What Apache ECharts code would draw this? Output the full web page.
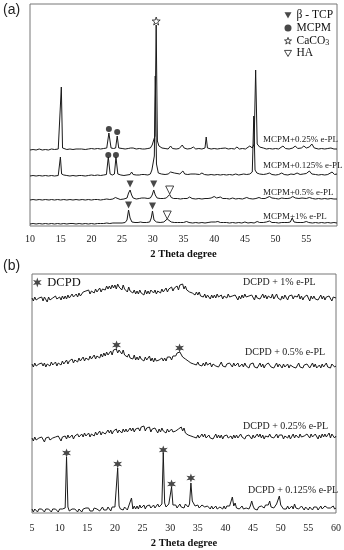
<!DOCTYPE html>
<html><head><meta charset="utf-8">
<script src="https://cdn.jsdelivr.net/npm/echarts/dist/echarts.min.js"></script>
<style>html,body{margin:0;padding:0;background:#fff}#c{width:344px;height:550px}</style>
</head><body><div id="c"></div>
<script>
// ---------- Panel (a): MCPM samples, [2θ, intensity(offset)] ----------
const mcpm025 = [[10,76],[10.5,76.5],[11,76],[11.5,77],[12,76],[12.5,76.5],[13,76],[13.5,77],[14,76.5],[14.6,77],[14.9,78],[15.1,139],[15.3,78],[15.6,77],[16,76.5],[16.5,77],[17,76.5],[17.5,77],[18.0,77],[18.2,79],[18.4,77],[19,76.5],[19.5,77],[20,77.5],[20.5,77],[21,77.5],[21.5,77],[22,77.5],[22.5,78],[22.85,93],[23.2,78],[23.6,77.5],[23.95,78],[24.2,90],[24.45,78],[25,77.5],[25.5,77],[26,77.5],[26.4,78],[26.6,80],[26.8,78],[27.3,77],[27.8,77.5],[28.3,77],[28.5,79],[28.7,77],[29.2,77.5],[29.6,78],[29.9,81],[30.1,80],[30.35,90],[30.55,201],[30.75,85],[31,80],[31.5,78],[32,77.5],[32.5,77],[32.9,80],[33.2,77.5],[33.8,77],[34.3,77.5],[34.8,81],[35.1,78],[35.6,77],[36.2,77.5],[36.6,79],[37,77],[37.5,77.5],[38,77],[38.5,78],[38.7,89],[38.9,78],[39.5,77],[40,77.5],[40.5,77],[41,77.5],[41.8,78],[42.3,77],[42.8,77.5],[43.3,77],[43.7,79],[44.1,77],[44.6,77.5],[45.1,77],[45.8,80],[46.2,78],[46.5,82],[46.75,156],[47,82],[47.4,79],[48,78],[48.5,77],[49,77.5],[49.5,77],[50,77.5],[50.5,77],[51.2,80],[51.6,77.5],[52.2,77],[52.8,78],[53.2,80],[53.6,77.5],[54.2,78],[54.6,80],[55,78],[55.5,79],[55.9,82],[56.3,78],[57,77],[57.5,77.5],[58,77],[58.5,77.5],[59,78],[59.5,77],[60,77]];
const mcpm0125 = [[10,50],[10.5,50.5],[11,50],[11.5,50.5],[12,50],[12.5,50.5],[13,50],[13.5,50.5],[14,50],[14.6,50.5],[14.8,51],[14.95,69],[15.15,52],[15.5,51],[16,50.5],[16.5,50],[17,50.5],[17.5,50],[18,50.5],[18.15,52],[18.4,50.5],[19,50],[19.5,50.5],[20,51],[20.5,50.5],[21,51],[21.5,50.5],[22,51],[22.45,51.5],[22.75,69],[23.05,52],[23.4,51],[23.75,52],[24.0,69],[24.3,52],[24.8,51],[25.3,50.5],[25.8,51],[26.3,51.5],[26.55,54],[26.8,51.5],[27.3,51],[27.8,51],[28.2,51.5],[28.4,53],[28.6,51.5],[29.2,51],[29.6,52],[29.85,56],[30.05,54],[30.25,70],[30.4,150],[30.6,62],[30.9,53],[31.4,52],[32,51.5],[32.5,52],[32.9,54],[33.2,52],[33.5,53],[33.8,51.5],[34.4,52],[34.9,55],[35.2,52],[35.7,51.5],[36.2,52],[36.5,53.5],[36.9,52],[37.2,52.5],[37.6,51.5],[38,53],[38.4,51.5],[39,51],[39.5,51.5],[40,51],[40.5,51.5],[41,51],[41.5,51.5],[42,51],[42.5,51.5],[43,51],[43.5,52],[44,51],[44.8,52],[45.3,51.5],[45.8,52],[46.2,54],[46.45,110],[46.65,56],[46.95,53],[47.4,52],[48,51.5],[48.5,52],[49,53],[49.4,51.5],[50,51],[50.5,51.5],[51,53],[51.4,51.5],[52,51],[52.5,52],[53,51.5],[53.5,53],[54,51.5],[54.5,52],[55,52.5],[55.5,55],[55.9,52],[56.5,51.5],[57,51],[57.5,51.5],[58,51],[58.5,51.5],[59.2,54],[59.6,51.5],[60,52]];
const mcpm05 = [[10,26],[10.5,26.5],[11,26],[11.5,26.5],[12,26],[12.5,26.5],[12.8,27.5],[13.1,26],[13.5,26.5],[14,26],[14.5,26.5],[15,26],[15.5,26.5],[16,26],[16.5,26.5],[17,26],[17.5,26.5],[18,26],[18.5,26.5],[19,26],[19.5,26.5],[20,26],[20.5,26.5],[21,26.5],[21.5,26],[22,26.5],[22.5,27],[23,26.5],[23.5,27],[23.9,28.5],[24.2,27],[24.7,26.5],[25.3,27],[25.8,28],[26.05,33],[26.3,36],[26.55,31],[26.8,28],[27.3,27],[27.8,27.5],[28.2,28],[28.45,30],[28.7,28],[29.2,27.5],[29.6,28],[29.9,31],[30.15,36],[30.4,31],[30.7,28],[31.2,27.5],[31.7,27.5],[32.2,28],[32.5,29],[32.75,31.5],[33.0,28.5],[33.4,27.5],[34,27.5],[34.5,27],[35,27.5],[35.6,27.5],[36,29],[36.4,27.5],[37,27],[37.5,27.5],[38,27],[38.5,27.5],[39,27.5],[39.5,28],[40,29.5],[40.4,28],[41,29],[41.4,27.5],[42,27.5],[42.5,27],[43,28],[43.5,27],[44,27.5],[44.6,27],[45.3,28.5],[45.7,27.5],[46.3,27],[46.8,27.5],[47.3,28.5],[47.7,27.5],[48.3,27.5],[49,29.5],[49.4,28],[50,27.5],[50.5,27],[51,28],[51.5,27.5],[52,27.5],[52.4,28],[52.8,29.5],[53.2,28],[53.8,27.5],[54.3,28],[55,27.5],[55.5,28.5],[56,27.5],[56.5,27],[57,27.5],[57.5,27],[58,27.5],[58.5,27],[59,27.5],[59.5,27],[60,27]];
const mcpm1 = [[10,2],[10.5,2.5],[11,2],[11.5,2.5],[12,2],[12.5,2.5],[13,2],[13.5,2.5],[14,2],[14.5,2.5],[15,2],[15.5,2.5],[16,2],[16.5,2.5],[17,2.5],[17.5,2],[18,2.5],[18.5,2],[19,2.5],[19.5,2],[20,2.5],[20.5,2],[21,2.5],[21.5,2.5],[22,2.5],[22.5,3],[23,2.5],[23.5,3],[24,3],[24.5,3],[25,3],[25.5,3.5],[25.8,6],[26.05,16],[26.3,8],[26.6,4],[27.1,3.5],[27.6,3.5],[28,4],[28.2,5],[28.4,3.5],[29,3.5],[29.5,4],[29.75,8],[29.95,15],[30.2,6],[30.6,4],[31.2,3.5],[31.8,4],[32.1,5],[32.35,7],[32.6,5],[33,4],[33.5,3.5],[34,3.5],[34.5,3.5],[35,3.5],[35.5,4.5],[35.9,3.5],[36.5,3],[37,3.5],[37.5,3],[38,3.5],[38.5,3],[39,3.5],[39.5,4],[39.8,5.5],[40.2,4],[40.6,4.5],[41,3.5],[41.5,3.5],[42,3.5],[42.5,3],[43,3.5],[43.5,3],[44,3.5],[44.5,3],[45,4],[45.5,3],[46,3.5],[46.5,3],[47,4.5],[47.4,3.5],[48,3.5],[48.5,4],[49,5],[49.4,3.5],[50,3.5],[50.5,3],[51,3.5],[51.5,3.5],[52,3.5],[52.4,4],[52.7,8],[53,4],[53.5,3.5],[54,3.5],[54.5,3.5],[55,4.5],[55.4,3.5],[56,3],[56.5,3.5],[57,3],[57.5,3.5],[58,3],[58.5,3.5],[59,3],[59.5,3.5],[60,3]];
// phase markers (a)
const tcpMarks = [[26.3,42],[30.15,42],[26.05,21],[29.95,20]];
const mcpmMarks = [[22.85,97],[24.2,94],[22.75,71],[24.0,71]];
const caco3Marks = [[30.55,205]];
const haMarks = [[32.75,36],[32.35,11]];
const ticksA = {min:10, max:60, step:5};

// ---------- Panel (b): DCPD samples, 2θ from 5 to 60, step 0.25 ----------
const thetaB = {start:5, step:0.25};
const dcpd1 = [215,212,216,213, 211,215,213,216, 212,216,214,211, 216,213,211,215, 213,217,214,212, 216,213,217,214, 217,214,218,215, 215,219,216,218, 219,216,220,217, 218,221,219,222, 220,223,219,222, 223,220,224,221, 222,225,221,224, 226,223,227,224, 227,224,228,225, 228,224,229,226, 227,223,228,224, 225,221,226,222, 224,220,223,219, 222,219,223,220, 221,218,223,219, 222,219,223,221, 220,223,219,222, 223,220,224,221, 222,225,221,224, 223,226,222,225, 224,227,223,228, 226,229,224,227, 223,225,221,222, 220,222,218,221, 218,221,217,219, 216,219,215,218, 217,214,218,215, 218,215,219,216, 215,218,214,217, 218,215,219,216, 214,217,215,218, 216,213,217,214, 218,215,219,216, 214,217,215,218, 216,213,218,215, 217,214,216,219, 215,218,214,217, 218,215,219,214, 216,219,215,217, 213,217,214,218, 216,213,217,215, 218,214,217,215, 216,219,214,217, 213,216,214,218, 215,212,217,214, 217,214,216,213, 215,218,214,217, 213,216,214,217, 215,212,216,214, 215];
const dcpd05 = [149,146,150,147, 145,149,147,150, 147,150,146,149, 150,147,151,148, 148,151,147,150, 151,148,152,149, 150,153,149,152, 151,154,150,153, 154,151,155,152, 153,156,152,155, 156,153,157,154, 155,158,154,157, 158,155,159,156, 160,157,161,158, 159,162,158,163, 161,164,160,163, 162,159,163,158, 160,156,159,155, 157,154,158,153, 156,153,157,154, 155,152,156,153, 154,157,152,155, 151,155,152,154, 153,151,155,152, 155,152,156,154, 156,153,157,155, 157,160,158,161, 159,156,158,154, 155,152,153,150, 152,149,151,148, 151,148,150,147, 150,147,151,148, 147,150,146,149, 150,147,149,146, 148,151,147,149, 146,149,147,150, 149,146,150,147, 147,150,146,148, 149,146,150,147, 148,145,149,147, 150,146,148,145, 147,150,146,149, 145,148,146,150, 149,146,148,145, 147,150,146,149, 148,145,149,146, 146,149,145,148, 149,146,148,145, 147,150,146,148, 145,148,146,149, 148,145,147,150, 146,149,145,147, 148,145,149,146, 147,150,146,148, 145,149,147,146, 147];
const dcpd025 = [75,72,76,73, 72,75,73,76, 74,71,75,73, 76,73,72,75, 73,76,74,77, 75,72,76,74, 77,74,78,75, 76,78,74,77, 75,79,76,78, 79,76,80,77, 78,80,76,79, 80,77,81,78, 79,82,78,81, 82,79,81,83, 80,83,79,82, 82,84,80,83, 83,80,84,81, 84,81,83,85, 82,85,81,84, 83,85,82,86, 84,87,82,85, 83,86,81,84, 82,85,83,80, 84,81,85,82, 83,80,84,81, 80,84,81,83, 82,80,84,85, 86,82,85,80, 81,78,80,77, 79,76,78,75, 78,75,77,79, 76,79,75,77, 78,75,77,74, 76,79,75,78, 75,78,74,77, 76,78,75,73, 77,74,78,75, 78,75,77,79, 76,78,74,77, 75,78,76,74, 78,75,77,79, 76,79,75,78, 74,77,79,76, 79,76,78,75, 77,79,75,78, 76,78,74,77, 79,75,78,74, 76,79,75,78, 78,75,79,76, 74,77,75,79, 78,75,79,76, 75,79,77,74, 78,75,79,76, 79,76,77,80, 75,79,77,75, 77];
const dcpd0125 = [4,1,4,2, 1,4,2,4, 3,1,4,2, 4,2,1,4, 2,4,3,1, 4,2,4,3, 5,56,6,2, 1,4,2,4, 3,1,4,2, 1,4,2,5, 3,5,2,4, 2,5,3,4, 5,2,4,6, 3,5,3,6, 4,2,6,4, 6,5,45,7, 4,6,3,6, 5,3,7,5, 15,4,7,4, 7,4,8,5, 6,8,4,7, 5,8,5,7, 8,5,7,9, 6,8,9,60, 10,6,8,9, 10,26,8,6, 8,5,7,9, 6,8,5,9, 7,6,9,30, 12,14,7,5, 8,5,7,8, 10,6,4,7, 6,4,7,4, 5,7,4,6, 6,8,4,7, 4,7,5,7, 9,16,7,10, 5,7,4,6, 7,4,6,5, 6,4,7,12, 7,4,6,3, 6,4,7,5, 5,8,6,8, 12,6,8,5, 6,9,7,17, 8,6,4,6, 4,7,4,6, 7,4,9,5, 7,4,5,7, 5,3,6,5, 3,6,5,3, 6,4,6,3, 5,7,4,5, 7,8,5,3, 5,7,7,4, 5];
const dcpdMarks = [[20.3,168],[31.7,165],[11.25,60],[20.5,49],[28.75,63],[30.25,29],[33.75,35]];
const ticksB = {min:5, max:60, step:5};

const namesA = ['MCPM+0.25% e-PL','MCPM+0.125% e-PL','MCPM+0.5% e-PL','MCPM+1% e-PL'];
const namesB = ['DCPD + 1% e-PL','DCPD + 0.5% e-PL','DCPD + 0.25% e-PL','DCPD + 0.125% e-PL'];

// ---------- build ----------
const pair = arr => arr.map((v,i)=>[thetaB.start + i*thetaB.step, v]);
const SERIF = '"Liberation Serif","Times New Roman",serif';
const INK = '#1a1a1a';
const triDown = 'path://M-5,-4.33 L5,-4.33 L0,4.33 Z';
const starPath = 'path://M0,-10 L2.35,-3.24 L9.51,-3.09 L3.80,1.24 L5.88,8.09 L0,4 L-5.88,8.09 L-3.80,1.24 L-9.51,-3.09 L-2.35,-3.24 Z';
const astPath = 'path://M0,-10 L2.1,-3.64 L8.66,-5 L4.2,0 L8.66,5 L2.1,3.64 L0,10 L-2.1,3.64 L-8.66,5 L-4.2,0 L-8.66,-5 L-2.1,-3.64 Z';
const solid = {color:INK, borderWidth:0};
const hollow = {color:'#fff', borderColor:INK, borderWidth:1};

function trace(name, data, idx){
  return {type:'line', name, data, xAxisIndex:idx, yAxisIndex:idx, showSymbol:false, symbol:'none',
    lineStyle:{color:INK, width:1}, itemStyle:{color:INK}, z:2, silent:true, animation:false};
}
function marks(name, data, idx, symbol, size, style){
  return {type:'scatter', name, data, xAxisIndex:idx, yAxisIndex:idx, symbol, symbolSize:size,
    itemStyle:style, z:5, silent:true, animation:false};
}
function xAx(t, gridIdx, showMax, margin, gap){
  return {type:'value', gridIndex:gridIdx, min:t.min, max:t.max, interval:t.step,
    axisLine:{show:false}, axisTick:{show:false}, splitLine:{show:false},
    axisLabel:{color:'#222', fontFamily:SERIF, fontSize:10, margin, showMaxLabel:showMax},
    name:'2 Theta degree', nameLocation:'middle', nameGap:gap,
    nameTextStyle:{fontFamily:SERIF, fontWeight:'bold', fontSize:10.5, color:'#111'}};
}
function yAx(max, gridIdx){
  return {type:'value', gridIndex:gridIdx, min:0, max, show:false};
}

const option = {
  backgroundColor:'#fff',
  animation:false,
  grid:[
    {left:30, right:7, top:4, bottom:324, show:true, borderColor:'#777', borderWidth:1},
    {left:32, right:7, top:274, bottom:37, show:true, borderColor:'#777', borderWidth:1}
  ],
  xAxis:[xAx(ticksA,0,false,8,23), xAx(ticksB,1,true,10,25)],
  yAxis:[yAx(222,0), yAx(239,1)],
  legend:[
    {data:[
      {name:'β - TCP', icon:triDown, itemStyle:solid},
      {name:'MCPM', icon:'circle', itemStyle:solid},
      {name:'CaCO3', icon:starPath, itemStyle:hollow},
      {name:'HA', icon:triDown, itemStyle:hollow}],
     orient:'vertical', left:284, top:9, itemGap:0,
     itemWidth:7, itemHeight:7, selectedMode:false, padding:0,
     formatter: n => n==='CaCO3' ? 'CaCO{s|3}' : n,
     textStyle:{fontFamily:SERIF, fontSize:11.5, color:'#111', lineHeight:12.7,
       rich:{s:{fontFamily:SERIF, fontSize:8, color:'#111', lineHeight:12.7, padding:[4,0,0,0]}}}},
    {data:[{name:'DCPD', icon:astPath, itemStyle:solid}], left:33, top:276, itemWidth:10, itemHeight:10, selectedMode:false, padding:0,
     textStyle:{fontFamily:SERIF, fontSize:12.5, color:'#111'}}
  ],
  series:[
    trace(namesA[0], mcpm025, 0),
    trace(namesA[1], mcpm0125, 0),
    trace(namesA[2], mcpm05, 0),
    trace(namesA[3], mcpm1, 0),
    marks('β - TCP', tcpMarks, 0, triDown, 7, solid),
    marks('MCPM', mcpmMarks, 0, 'circle', 6, solid),
    marks('CaCO3', caco3Marks, 0, starPath, 8, hollow),
    marks('HA', haMarks, 0, triDown, 8, hollow),
    trace(namesB[0], pair(dcpd1), 1),
    trace(namesB[1], pair(dcpd05), 1),
    trace(namesB[2], pair(dcpd025), 1),
    trace(namesB[3], pair(dcpd0125), 1),
    marks('DCPD', dcpdMarks, 1, astPath, 9, solid)
  ],
  graphic:[
    {type:'text', left:3, top:3, style:{text:'(a)', font:'14px "Liberation Sans",Arial,sans-serif', fill:'#222'}},
    {type:'text', left:3, top:259, style:{text:'(b)', font:'14px "Liberation Sans",Arial,sans-serif', fill:'#222'}},
    {type:'text', x:263, y:140, style:{text:namesA[0], font:'9px '+SERIF, fill:'#222', verticalAlign:'middle'}},
    {type:'text', x:263, y:166, style:{text:namesA[1], font:'9px '+SERIF, fill:'#222', verticalAlign:'middle'}},
    {type:'text', x:263, y:193, style:{text:namesA[2], font:'9px '+SERIF, fill:'#222', verticalAlign:'middle'}},
    {type:'text', x:263, y:217, style:{text:namesA[3], font:'9px '+SERIF, fill:'#222', verticalAlign:'middle'}},
    {type:'text', x:243, y:282, style:{text:namesB[0], font:'10px '+SERIF, fill:'#222', verticalAlign:'middle'}},
    {type:'text', x:245, y:352, style:{text:namesB[1], font:'10px '+SERIF, fill:'#222', verticalAlign:'middle'}},
    {type:'text', x:243, y:426, style:{text:namesB[2], font:'10px '+SERIF, fill:'#222', verticalAlign:'middle'}},
    {type:'text', x:248, y:490, style:{text:namesB[3], font:'10px '+SERIF, fill:'#222', verticalAlign:'middle'}}
  ]
};
const chart = echarts.init(document.getElementById('c'), null, {renderer:'canvas'});
chart.setOption(option);
</script></body></html>
